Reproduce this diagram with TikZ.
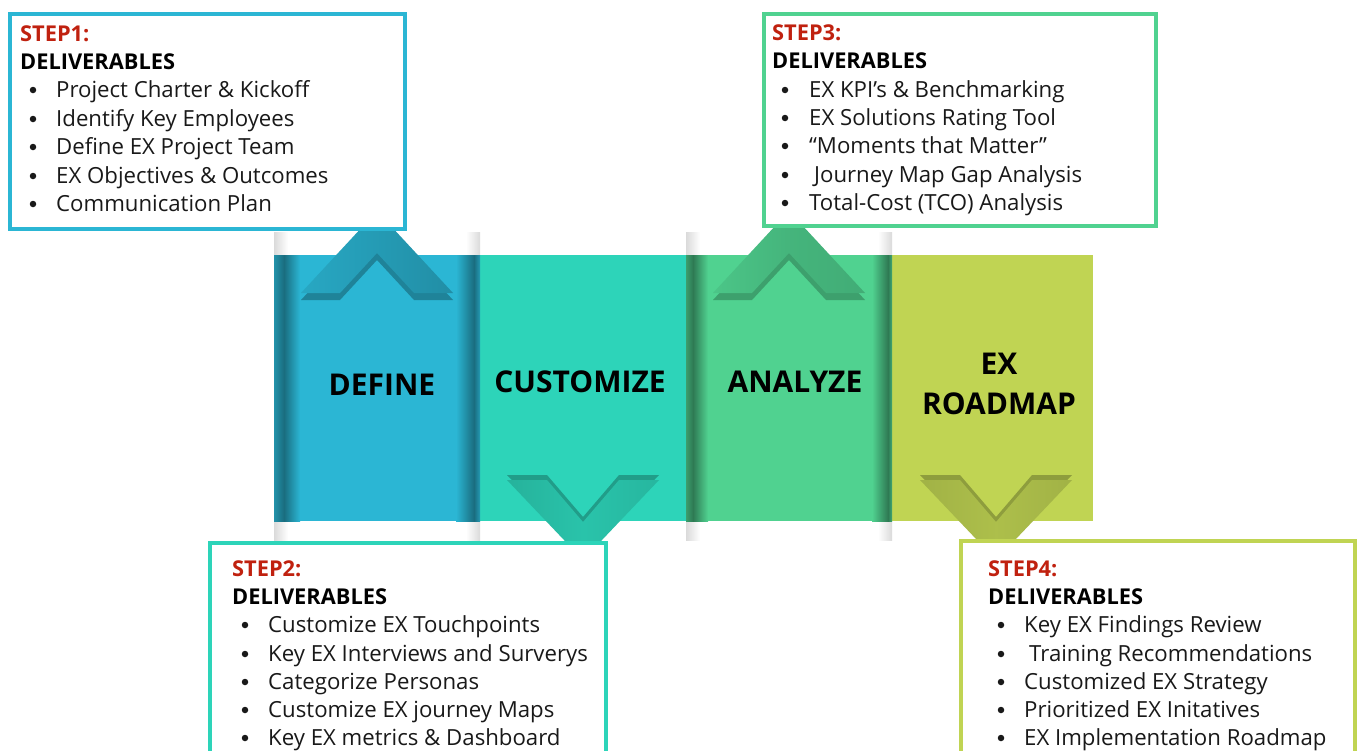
\documentclass[tikz,border=0pt]{standalone}
\usepackage{fontspec}
\setmainfont{Open Sans}
\definecolor{cA}{HTML}{2BB6D4}
\definecolor{cB}{HTML}{2DD4B9}
\definecolor{cC}{HTML}{50D290}
\definecolor{cD}{HTML}{C0D453}
\definecolor{stepred}{HTML}{C0210F}
\definecolor{pillar}{HTML}{DADADA}
\newcommand\upchev[6]{% cx, base, left col, mid col, right col, shadow
  \fill[#6] ($(#1-76,#2+7)$) -- ($(#1,#2-75)$) -- ($(#1+76,#2+7)$) -- ($(#1+37,#2+7)$) -- ($(#1,#2-33)$) -- ($(#1-37,#2+7)$) -- cycle;
  \shade[left color=#3,right color=#4] ($(#1-76,#2)$) -- ($(#1,#2-82)$) -- ($(#1,#2-40)$) -- ($(#1-37,#2)$) -- cycle;
  \shade[left color=#4,right color=#5] ($(#1+76,#2)$) -- ($(#1,#2-82)$) -- ($(#1,#2-40)$) -- ($(#1+37,#2)$) -- cycle;
}
\newcommand\downchev[6]{% cx, top, left col, mid col, right col, shadow
  \fill[#6] ($(#1-76,#2-5)$) -- ($(#1,#2+75)$) -- ($(#1+76,#2-5)$) -- ($(#1+36,#2-5)$) -- ($(#1,#2+37)$) -- ($(#1-36,#2-5)$) -- cycle;
  \shade[left color=#3,right color=#4] ($(#1-76,#2)$) -- ($(#1,#2+80)$) -- ($(#1,#2+42)$) -- ($(#1-36,#2)$) -- cycle;
  \shade[left color=#4,right color=#5] ($(#1+76,#2)$) -- ($(#1,#2+80)$) -- ($(#1,#2+42)$) -- ($(#1+36,#2)$) -- cycle;
}
\usetikzlibrary{calc}
\begin{document}
\begin{tikzpicture}[x=1pt,y=-1pt,
  panel/.style={inner sep=0,font=\fontsize{30}{36}\selectfont\bfseries},
  delbox/.style={line width=4pt,fill=white},
  hd/.style={anchor=base west,inner sep=0,font=\fontsize{21.8}{26}\selectfont\bfseries},
  stp/.style={hd,text=stepred},
  bul/.style={circle,fill=black!90,inner sep=0,minimum size=6.5pt},
  itm/.style={anchor=base west,inner sep=0,font=\fontsize{22.2}{26}\selectfont,text=black!90}]
\useasboundingbox (0,0) rectangle (1357,750);
\fill[white] (0,0) rectangle (1357,750);
% pillar shadows above and below
\foreach \xa/\xb in {274/288,686/700}{
  \shade[left color=pillar,right color=white] (\xa,232) rectangle (\xb,255);
  \shade[left color=pillar,right color=white] (\xa,521) rectangle (\xb,540);}
\foreach \xa/\xb in {466/480,878/892}{
  \shade[left color=white,right color=pillar] (\xa,232) rectangle (\xb,255);
  \shade[left color=white,right color=pillar] (\xa,521) rectangle (\xb,540);}
% panels
\fill[cA] (274,255) rectangle (480,521);
\fill[cB] (480,255) rectangle (686,521);
\fill[cC] (686,255) rectangle (892,521);
\fill[cD] (892,255) rectangle (1093,521);
% inner edge shading
\shade[left color=cA!80!black,right color=cA!60!black] (274,255) rectangle (284,521);
\shade[left color=cA!60!black,right color=cA] (284,255) rectangle (300,521);
\shade[left color=cA,right color=cA!60!black] (456,255) rectangle (474,521);
\shade[left color=cA!60!black,right color=cA!85!black] (474,255) rectangle (480,521);
\shade[left color=cC!75!black,right color=cC!58!black] (686,255) rectangle (693,521);
\shade[left color=cC!58!black,right color=cC] (693,255) rectangle (708,521);
\shade[left color=cC,right color=cC!58!black] (872,255) rectangle (888,521);
\shade[left color=cC!58!black,right color=cC!80!black] (888,255) rectangle (892,521);
% chevrons
\upchev{377}{293}{cA!92!black}{cA!85!black}{cA!78!black}{cA!72!black}
\downchev{583}{480}{cB!84!black}{cB!92!black}{cB!86!black}{cB!74!black}
\upchev{789}{293}{cC!94!black}{cC!86!black}{cC!82!black}{cC!76!black}
\downchev{996}{480}{cD!84!black}{cD!90!black}{cD!84!black}{cD!74!black}
% panel labels
\node[panel] (define) at (382,385) {DEFINE};
\node[panel] (custom) at (580,382) {CUSTOMIZE};
\node[panel] (analyze) at (795,382) {ANALYZE};
\node[panel] (ex) at (999,364) {EX};
\node[panel] (roadmap) at (999,404) {ROADMAP};
% boxes
\draw[delbox,draw=cA] (9.5,14) rectangle (405,229);
\draw[delbox,draw=cB] (209.5,542.5) rectangle (606,760);
\draw[delbox,draw=cC] (764,14) rectangle (1156,226);
\draw[delbox,draw=cD] (960.5,540.5) rectangle (1355,760);
% box 1
\node[stp] (s1) at (20,41) {STEP1:};
\node[hd] (d1) at (20,69) {DELIVERABLES};
\foreach \y/\t [count=\i] in {97/Project Charter \& Kickoff,126/Identify Key Employees,154/Define EX Project Team,183/EX Objectives \& Outcomes,211/Communication Plan}{
  \node[bul] (b1\i) at (33,\y-7) {};
  \node[itm] (t1\i) at (56,\y) {\t};}
% box 2
\node[stp] (s2) at (232,576) {STEP2:};
\node[hd] (d2) at (232,604) {DELIVERABLES};
\foreach \y/\t [count=\i] in {632/Customize EX Touchpoints,661/Key EX Interviews and Surverys,689/Categorize Personas,717/Customize EX journey Maps,745/Key EX metrics \& Dashboard}{
  \node[bul] (b2\i) at (245,\y-7) {};
  \node[itm] (t2\i) at (268,\y) {\t};}
% box 3
\node[stp] (s3) at (772,40) {STEP3:};
\node[hd] (d3) at (772,68) {DELIVERABLES};
\foreach \y/\x/\t [count=\i] in {97/809/EX KPI’s \& Benchmarking,125/809/EX Solutions Rating Tool,153/809/“Moments that Matter”,182/814/Journey Map Gap Analysis,210/809/Total-Cost (TCO) Analysis}{
  \node[bul] (b3\i) at (785,\y-7) {};
  \node[itm] (t3\i) at (\x,\y) {\t};}
% box 4
\node[stp] (s4) at (988,576) {STEP4:};
\node[hd] (d4) at (988,604) {DELIVERABLES};
\foreach \y/\x/\t [count=\i] in {632/1024/Key EX Findings Review,661/1029/Training Recommendations,689/1024/Customized EX Strategy,717/1024/Prioritized EX Initatives,745/1024/EX Implementation Roadmap}{
  \node[bul] (b4\i) at (1001,\y-7) {};
  \node[itm] (t4\i) at (\x,\y) {\t};}
\end{tikzpicture}
\end{document}
